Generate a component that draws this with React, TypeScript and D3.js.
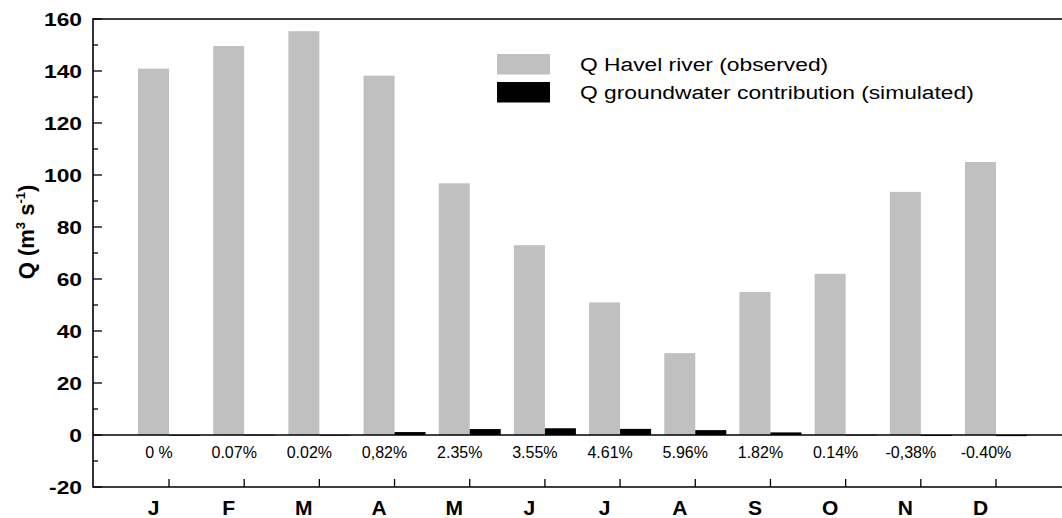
import React from 'react';
import { scaleLinear, scalePoint, range } from 'd3';

const months = ['J', 'F', 'M', 'A', 'M', 'J', 'J', 'A', 'S', 'O', 'N', 'D'];
const havelObserved = [140.9, 149.6, 155.3, 138.2, 96.8, 73.0, 51.0, 31.5, 55.0, 62.0, 93.5, 105.0];
const groundwater = [0, 0.1, 0.03, 1.13, 2.28, 2.59, 2.35, 1.88, 1.0, 0.09, -0.36, -0.42];
const shares = ['0 %', '0.07%', '0.02%', '0,82%', '2.35%', '3.55%', '4.61%', '5.96%', '1.82%', '0.14%', '-0,38%', '-0.40%'];
const yTicks = [-20, 0, 20, 40, 60, 80, 100, 120, 140, 160];
const legendLabels = ['Q Havel river (observed)', 'Q groundwater contribution (simulated)'];

const W = 1062;
const H = 518;
const left = 93;
const top = 19;
const bottom = 487;
const font = '"Liberation Sans", Arial, sans-serif';

function App() {
  const y = scaleLinear().domain([-20, 160]).range([bottom, top]);
  // category centre = tick; grey bar to the left, black bar to the right
  const x = scalePoint<number>().domain(range(months.length)).range([169, 996]);
  const bw = 31;
  const minor = range(-20, 161, 10);

  return (
    <svg width={W} height={H} style={{ position: 'absolute', left: 0, top: 0, background: '#fff' }}>
      {havelObserved.map((v, i) => (
        <rect key={'h' + i} x={x(i)! - bw} y={y(v)} width={bw} height={y(0) - y(v)} fill="#c0c0c0" />
      ))}
      {groundwater.map((v, i) => (
        <rect
          key={'g' + i}
          x={x(i)!}
          y={Math.min(y(v), y(0))}
          width={bw}
          height={Math.max(Math.abs(y(0) - y(v)), 0.6)}
          fill="#000"
        />
      ))}

      {/* zero line */}
      <line x1={left} x2={W} y1={y(0)} y2={y(0)} stroke="#000" strokeWidth={1.6} />

      {/* frame (right side falls outside the picture) */}
      <path d={`M${W},${top}H${left}V${bottom}H${W}`} fill="none" stroke="#000" strokeWidth={1.6} />

      {/* y ticks */}
      {minor.map((t) => (
        <line key={'yt' + t} x1={left} x2={left + (t % 20 === 0 ? 9 : 5)} y1={y(t)} y2={y(t)} stroke="#000" strokeWidth={1.3} />
      ))}
      {yTicks.map((t) => (
        <text
          key={'yl' + t}
          transform={`translate(82,${y(t)}) scale(1.2,1)`}
          dy="0.36em"
          textAnchor="end"
          fontFamily={font}
          fontWeight="bold"
          fontSize={19}
        >
          {t}
        </text>
      ))}

      {/* x ticks and labels */}
      {months.map((m, i) => (
        <g key={'x' + i}>
          <line x1={x(i)} x2={x(i)} y1={bottom} y2={bottom - 8} stroke="#000" strokeWidth={1.3} />
          <text x={x(i)! - bw / 2} y={515} textAnchor="middle" fontFamily={font} fontWeight="bold" fontSize={21}>
            {m}
          </text>
          <text x={x(i)! - 10} y={458} textAnchor="middle" fontFamily={font} fontSize={16}>
            {shares[i]}
          </text>
        </g>
      ))}

      {/* y title */}
      <text
        transform="translate(34,232) rotate(-90)"
        textAnchor="middle"
        fontFamily={font}
        fontWeight="bold"
        fontSize={22}
      >
        Q (m<tspan fontSize={13} dy={-9}>3</tspan>
        <tspan dy={9}> s</tspan>
        <tspan fontSize={13} dy={-9}>-1</tspan>
        <tspan dy={9}>)</tspan>
      </text>

      {/* legend */}
      {legendLabels.map((l, i) => (
        <g key={'lg' + i}>
          <rect x={497} y={54 + i * 28} width={53} height={20.5} fill={i === 0 ? '#c0c0c0' : '#000'} />
          <text
            transform={`translate(580,${71 + i * 28}) scale(1.2,1)`}
            fontFamily={font}
            fontSize={19}
          >
            {l}
          </text>
        </g>
      ))}
    </svg>
  );
}

export default App;
